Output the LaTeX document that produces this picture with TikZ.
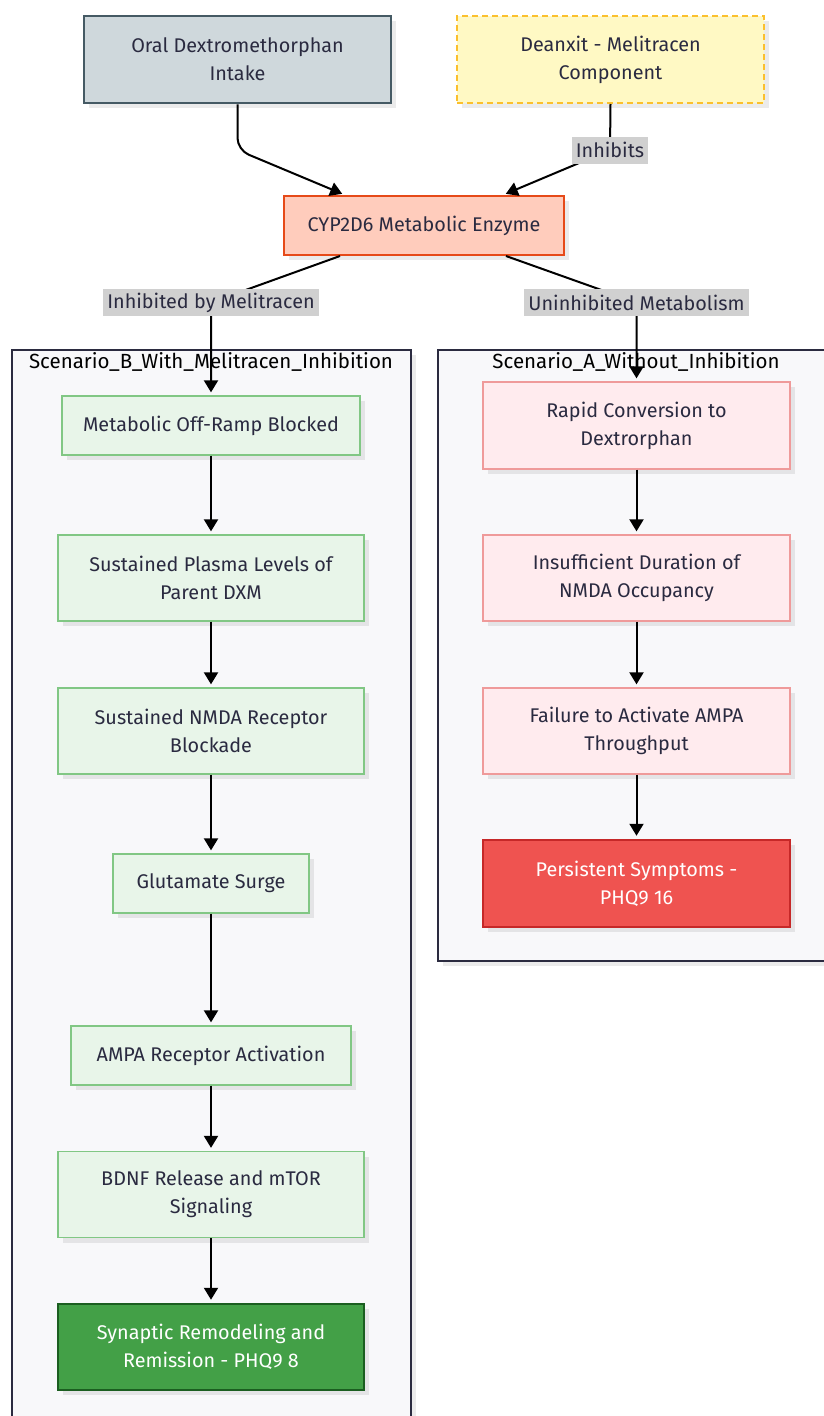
\documentclass[tikz,border=0pt]{standalone}
\usepackage{fontspec}
\setmainfont{Fira Sans}
\usetikzlibrary{arrows.meta,shadows,calc}
\definecolor{txt}{HTML}{2A2A40}
\definecolor{oralF}{HTML}{CFD8DC}
\definecolor{oralD}{HTML}{455A64}
\definecolor{deaF}{HTML}{FFF9C4}
\definecolor{deaD}{HTML}{FBC02D}
\definecolor{cypF}{HTML}{FFCCBC}
\definecolor{cypD}{HTML}{E64A19}
\definecolor{grnF}{HTML}{E8F5E9}
\definecolor{grnD}{HTML}{81C784}
\definecolor{finF}{HTML}{43A047}
\definecolor{finD}{HTML}{1B5E20}
\definecolor{pnkF}{HTML}{FFEBEE}
\definecolor{pnkD}{HTML}{EF9A9A}
\definecolor{redF}{HTML}{EF5350}
\definecolor{redD}{HTML}{C62828}
\definecolor{cluF}{HTML}{F8F8FA}
\definecolor{cluD}{HTML}{2B2B40}
\definecolor{lblF}{HTML}{D0D0D0}
\tikzset{
  shad/.style={drop shadow={shadow xshift=5pt,shadow yshift=-5pt,fill=black,opacity=0.08}},
  box/.style={rectangle, shad, align=center, inner sep=0pt, text=txt,
    font=\fontsize{19.8}{28}\selectfont},
  oralbox/.style={box, fill=oralF, draw=oralD, line width=2.8pt},
  deabox/.style={box, fill=deaF, draw=deaD, line width=2pt, dash pattern=on 6pt off 4pt},
  cypbox/.style={box, fill=cypF, draw=cypD, line width=2pt},
  grnbox/.style={box, fill=grnF, draw=grnD, line width=1.3pt},
  finbox/.style={box, fill=finF, draw=finD, line width=2.5pt, text=white},
  pnkbox/.style={box, fill=pnkF, draw=pnkD, line width=1.3pt},
  redbox/.style={box, fill=redF, draw=redD, line width=2.5pt, text=white},
  cluster/.style={rectangle, fill=cluF, draw=cluD, line width=2pt, shad, inner sep=0pt},
  ctitle/.style={text=black, font=\fontsize{20.5}{22}\selectfont, inner sep=0pt},
  lbl/.style={fill=lblF, text=txt, font=\fontsize{19.8}{22}\selectfont, inner xsep=4pt, inner ysep=0pt, minimum height=27pt},
  arr/.style={line width=2pt, -{Triangle[width=14pt,length=12pt]}, shorten >=3pt}
}
\begin{document}
\begin{tikzpicture}[x=1pt,y=-1pt]
\useasboundingbox (0,0) rectangle (824,1416);
\clip (0,0) rectangle (824,1416);
\fill[white] (0,0) rectangle (824,1416);

% clusters
\node[cluster, anchor=north west, minimum width=399pt, minimum height=1090pt] (cB) at (11,349) {};
\node[cluster, anchor=north west, minimum width=400pt, minimum height=611pt] (cA) at (437,349) {};
\node[ctitle] (tB) at (211,362) {Scenario\_B\_With\_Melitracen\_Inhibition};
\node[ctitle] (tA) at (636,362) {Scenario\_A\_Without\_Inhibition};

% top nodes
\node[oralbox, minimum width=307pt, minimum height=87pt] (oral) at (237.5,59.5) {Oral Dextromethorphan\\Intake};
\node[deabox, minimum width=307pt, minimum height=87pt] (dea) at (610.5,59.5) {Deanxit - Melitracen\\Component};
\node[cypbox, minimum width=280pt, minimum height=59pt] (cyp) at (424,225.5) {CYP2D6 Metabolic Enzyme};

% scenario B
\node[grnbox, minimum width=298pt, minimum height=59pt] (b1) at (211,425.5) {Metabolic Off-Ramp Blocked};
\node[grnbox, minimum width=306pt, minimum height=86pt] (b2) at (211,578) {Sustained Plasma Levels of\\Parent DXM};
\node[grnbox, minimum width=306pt, minimum height=86pt] (b3) at (211,731) {Sustained NMDA Receptor\\Blockade};
\node[grnbox, minimum width=196pt, minimum height=59pt] (b4) at (211,883.5) {Glutamate Surge};
\node[grnbox, minimum width=280pt, minimum height=59pt] (b5) at (211,1055.5) {AMPA Receptor Activation};
\node[grnbox, minimum width=306pt, minimum height=86pt] (b6) at (211,1194.5) {BDNF Release and mTOR\\Signaling};
\node[finbox, minimum width=306pt, minimum height=86pt] (b7) at (211,1347) {Synaptic Remodeling and\\Remission - PHQ9 8};

% scenario A
\node[pnkbox, minimum width=307pt, minimum height=87pt] (a1) at (636.5,425.5) {Rapid Conversion to\\Dextrorphan};
\node[pnkbox, minimum width=307pt, minimum height=86pt] (a2) at (636.5,578) {Insufficient Duration of\\NMDA Occupancy};
\node[pnkbox, minimum width=307pt, minimum height=86pt] (a3) at (636.5,731) {Failure to Activate AMPA\\Throughput};
\node[redbox, minimum width=307pt, minimum height=87pt] (a4) at (636.5,883.5) {Persistent Symptoms -\\PHQ9 16};

% label positions
\coordinate (lI) at (610,150);
\coordinate (lB) at (211,302.5);
\coordinate (lA) at (636.5,302.5);
\coordinate (oc) at (oral.south |- 0,150);

% top edges
\draw[arr, rounded corners=12pt] (oral.south) -- (oc) -- ($(cyp.north)+(-79,0)$);
\draw[arr] (dea.south) -- (lI) -- ($(cyp.north)+(79,0)$);
\draw[arr] ($(cyp.south)+(-84,0)$) -- (lB) -- (b1.north);
\draw[arr] ($(cyp.south)+(82,0)$) -- (lA) -- (a1.north);

% labels on top
\node[lbl] (lblI) at (lI) {Inhibits};
\node[lbl] (lblB) at (lB) {Inhibited by Melitracen};
\node[lbl] (lblA) at (lA) {Uninhibited Metabolism};

% chain edges
\draw[arr] (b1) -- (b2);
\draw[arr] (b2) -- (b3);
\draw[arr] (b3) -- (b4);
\draw[arr] (b4) -- (b5);
\draw[arr] (b5) -- (b6);
\draw[arr] (b6) -- (b7);
\draw[arr] (a1) -- (a2);
\draw[arr] (a2) -- (a3);
\draw[arr] (a3) -- (a4);
\end{tikzpicture}
\end{document}
